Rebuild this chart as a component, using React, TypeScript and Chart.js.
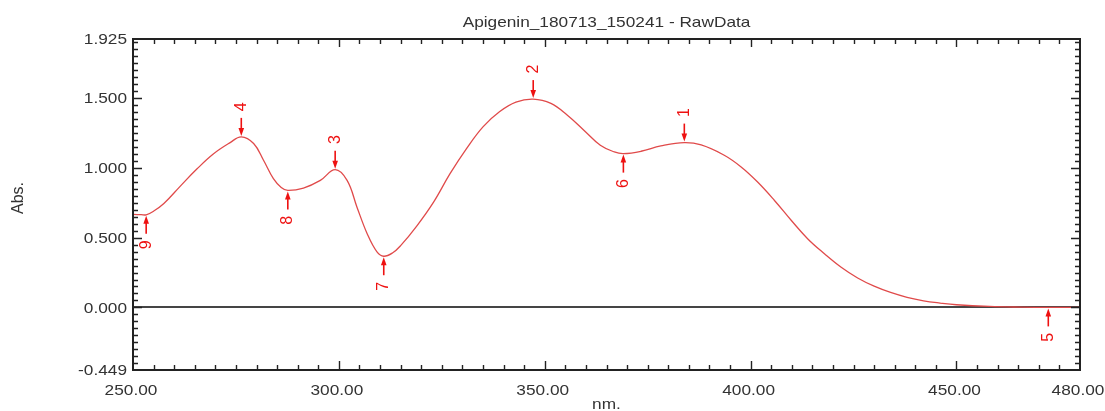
import React, { useEffect, useRef } from "react";
import { Chart, registerables } from "chart.js";

Chart.register(...registerables);

// Spectrum samples (wavelength in nm, absorbance)
const wavelengths = [
  250, 252, 253.2, 255, 257.5, 261.5, 265.5, 269.5, 273.5, 276.3,
  279.3, 281.7, 284.1, 286, 287.6, 291.4, 295.5, 299.1, 302, 304.4,
  306.9, 309.3, 310.9, 313, 315, 319, 323, 327, 331, 335,
  339, 343, 347.2, 351.5, 355.5, 359.5, 363.5, 366.9, 369.1, 373.4,
  378.2, 383.9, 388, 393.6, 397.7, 401.7, 405.8, 409.9, 413.9, 418,
  422, 426, 430, 434, 438, 442, 446, 450, 458, 466,
  472.3, 480,
];
const absorbance = [
  0.667, 0.665, 0.664, 0.69, 0.745, 0.87, 0.992, 1.1, 1.18, 1.223,
  1.175, 1.055, 0.923, 0.86, 0.839, 0.856, 0.911, 0.988, 0.911, 0.719,
  0.527, 0.396, 0.367, 0.39, 0.443, 0.587, 0.755, 0.959, 1.139, 1.295,
  1.403, 1.472, 1.494, 1.463, 1.378, 1.271, 1.163, 1.115, 1.103, 1.12,
  1.158, 1.182, 1.165, 1.091, 1.007, 0.899, 0.767, 0.623, 0.491, 0.383,
  0.288, 0.211, 0.152, 0.107, 0.072, 0.047, 0.031, 0.019, 0.007, 0.002,
  0.0, 0.0,
];

// Detected peaks (arrow above) and valleys (arrow below)
const peakLabels = ["1", "2", "3", "4"];
const peakNm = [383.9, 347.2, 299.1, 276.3];
const valleyLabels = ["5", "6", "7", "8", "9"];
const valleyNm = [472.3, 369.1, 310.9, 287.6, 253.2];

// Axis labels
const xTickValues = [250, 300, 350, 400, 450, 480];
const xTickLabels = ["250.00", "300.00", "350.00", "400.00", "450.00", "480.00"];
const yTickValues = [1.925, 1.5, 1.0, 0.5, 0.0, -0.449];
const yTickLabels = ["1.925", "1.500", "1.000", "0.500", "0.000", "-0.449"];

const X_MIN = 250;
const X_MAX = 480;
const Y_MIN = -0.449;
const Y_MAX = 1.925;

const TITLE = "Apigenin_180713_150241 - RawData";
const X_TITLE = "nm.";
const Y_TITLE = "Abs.";

const FONT = "'Liberation Sans', Arial, sans-serif";
const AXIS_COLOR = "#222222";
const TEXT_COLOR = "#333333";
const MARK_COLOR = "#ee1111";

function stretchedText(
  ctx: CanvasRenderingContext2D,
  text: string,
  x: number,
  y: number,
  align: CanvasTextAlign,
  baseline: CanvasTextBaseline,
  sx = 1.15
) {
  ctx.save();
  ctx.translate(x, y);
  ctx.scale(sx, 1);
  ctx.textAlign = align;
  ctx.textBaseline = baseline;
  ctx.fillText(text, 0, 0);
  ctx.restore();
}

function valueAt(nm: number): number {
  const i = wavelengths.indexOf(nm);
  return absorbance[i];
}

const spectrumDecor = {
  id: "spectrumDecor",
  beforeDatasetsDraw(chart: any) {
    const ctx: CanvasRenderingContext2D = chart.ctx;
    const { left, right } = chart.chartArea;
    const y0 = Math.round(chart.scales.y.getPixelForValue(0));
    ctx.save();
    ctx.strokeStyle = "#454545";
    ctx.lineWidth = 2;
    ctx.beginPath();
    ctx.moveTo(left, y0);
    ctx.lineTo(right, y0);
    ctx.stroke();
    ctx.restore();
  },
  afterDatasetsDraw(chart: any) {
    const ctx: CanvasRenderingContext2D = chart.ctx;
    const { left, right, top, bottom } = chart.chartArea;
    const xs = chart.scales.x;
    const ys = chart.scales.y;

    ctx.save();
    // frame
    ctx.strokeStyle = AXIS_COLOR;
    ctx.lineWidth = 2;
    ctx.strokeRect(left, top, right - left, bottom - top);

    // x ticks: every 5 nm, longer every 50 nm
    ctx.lineWidth = 1.4;
    ctx.beginPath();
    for (let v = 255; v < X_MAX; v += 5) {
      const px = Math.round(xs.getPixelForValue(v)) + 0.5;
      const major = v % 50 === 0;
      ctx.moveTo(px, bottom);
      ctx.lineTo(px, bottom - (major ? 9 : 5));
      ctx.moveTo(px, top);
      ctx.lineTo(px, top + (major ? 8 : 5));
    }
    // y ticks: every 0.05, longer every 0.5
    for (let k = -8; k <= 38; k++) {
      const py = Math.round(ys.getPixelForValue(k * 0.05)) + 0.5;
      const major = k % 10 === 0;
      ctx.moveTo(left, py);
      ctx.lineTo(left + (major ? 9 : 5), py);
      ctx.moveTo(right, py);
      ctx.lineTo(right - (major ? 9 : 5), py);
    }
    ctx.stroke();

    // tick labels
    ctx.fillStyle = TEXT_COLOR;
    ctx.font = `15px ${FONT}`;
    xTickValues.forEach((v, i) => {
      stretchedText(ctx, xTickLabels[i], xs.getPixelForValue(v) - 2, 395, "center", "alphabetic");
    });
    yTickValues.forEach((v, i) => {
      stretchedText(ctx, yTickLabels[i], 127, ys.getPixelForValue(v) + 1, "right", "middle");
    });

    // titles
    stretchedText(ctx, TITLE, (left + right) / 2, 27, "center", "alphabetic");
    stretchedText(ctx, X_TITLE, (left + right) / 2, 409, "center", "alphabetic");
    ctx.save();
    ctx.translate(19, 198);
    ctx.rotate(-Math.PI / 2);
    ctx.textAlign = "center";
    ctx.textBaseline = "middle";
    ctx.font = `16px ${FONT}`;
    ctx.fillText(Y_TITLE, 0, 0);
    ctx.restore();

    // peak / valley arrows with rotated numbers
    const marker = (nm: number, label: string, dir: number) => {
      const x = xs.getPixelForValue(nm);
      const y = ys.getPixelForValue(valueAt(nm));
      const tip = y + dir * 1;
      ctx.strokeStyle = MARK_COLOR;
      ctx.fillStyle = MARK_COLOR;
      ctx.lineWidth = 1.6;
      ctx.beginPath();
      ctx.moveTo(x, tip + dir * 6);
      ctx.lineTo(x, tip + dir * 18);
      ctx.stroke();
      ctx.beginPath();
      ctx.moveTo(x, tip);
      ctx.lineTo(x - 2.8, tip + dir * 8);
      ctx.lineTo(x + 2.8, tip + dir * 8);
      ctx.closePath();
      ctx.fill();
      ctx.save();
      ctx.translate(x, y + dir * 30);
      ctx.rotate(-Math.PI / 2);
      ctx.textAlign = "center";
      ctx.textBaseline = "middle";
      ctx.font = `16px ${FONT}`;
      ctx.fillText(label, 0, 0);
      ctx.restore();
    };
    peakNm.forEach((nm, i) => marker(nm, peakLabels[i], -1));
    valleyNm.forEach((nm, i) => marker(nm, valleyLabels[i], 1));

    ctx.restore();
  },
};

export default function App() {
  const canvasRef = useRef<HTMLCanvasElement>(null);

  useEffect(() => {
    if (!canvasRef.current) return;
    const points = wavelengths.map((w, i) => ({ x: w, y: absorbance[i] }));
    const chart = new Chart(canvasRef.current, {
      type: "line",
      data: {
        datasets: [
          {
            data: points,
            borderColor: "#e04a4a",
            borderWidth: 1.3,
            pointRadius: 0,
            fill: false,
            tension: 0.4,
          },
        ],
      },
      options: {
        responsive: false,
        animation: false,
        devicePixelRatio: 1,
        layout: { padding: { left: 133, right: 25, top: 39, bottom: 41 } },
        plugins: {
          legend: { display: false },
          title: { display: false },
          tooltip: { enabled: false },
        },
        events: [],
        scales: {
          x: { type: "linear", min: X_MIN, max: X_MAX, display: false },
          y: { type: "linear", min: Y_MIN, max: Y_MAX, display: false },
        },
      },
      plugins: [spectrumDecor],
    });
    return () => chart.destroy();
  }, []);

  return (
    <div
      style={{
        position: "fixed",
        left: 0,
        top: 0,
        width: 1105,
        height: 411,
        background: "#ffffff",
      }}
    >
      <canvas ref={canvasRef} width={1105} height={411} style={{ display: "block" }} />
    </div>
  );
}
